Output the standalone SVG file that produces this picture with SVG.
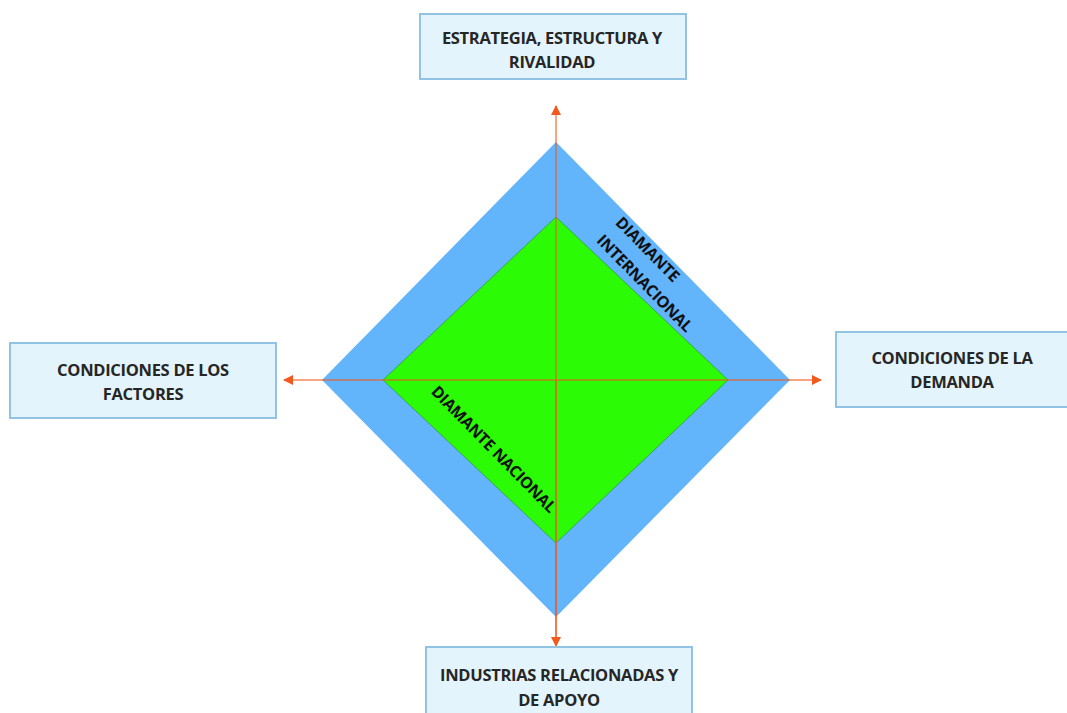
<svg xmlns="http://www.w3.org/2000/svg" width="1067" height="713" viewBox="0 0 1067 713">
<style>
.box{fill:#e3f4fd;stroke:#92c3e3;stroke-width:2}
.lbl{font-family:"Open Sans","Liberation Sans",sans-serif;font-weight:bold;font-size:16.5px;fill:#262626;text-anchor:middle;letter-spacing:-0.3px}
.dl{font-family:"Open Sans","Liberation Sans",sans-serif;font-weight:bold;font-size:16px;fill:#111;text-anchor:middle;dominant-baseline:central;letter-spacing:-0.3px}
.ax{stroke:#f05a1e;stroke-opacity:0.55;stroke-width:2;fill:none}
</style>
<defs>
<marker id="ah" viewBox="0 0 10 10" refX="9" refY="5" markerWidth="5" markerHeight="5" orient="auto">
<path d="M0,0 L10,5 L0,10 z" fill="#f05a1e"/>
</marker>
</defs>
<rect width="1067" height="713" fill="#fff"/>
<g id="diamond-internacional">
<polygon points="556,142 790,380 556,617 322,380" fill="#62b4fb"/>
<text class="dl" transform="translate(648,249) rotate(45.5)">DIAMANTE</text>
<text class="dl" transform="translate(645,283) rotate(45.5)">INTERNACIONAL</text>
</g>
<g id="diamond-nacional">
<polygon points="556,217 728,380 556,543 383,380" fill="#2bfb05" stroke="#3a9a3a" stroke-width="0.8"/>
<text class="dl" transform="translate(494,449) rotate(45.5)">DIAMANTE NACIONAL</text>
</g>
<g id="connectors">
<line class="ax" x1="556" y1="645" x2="556" y2="106" marker-end="url(#ah)"/>
<line class="ax" x1="556" y1="380" x2="556" y2="646" marker-end="url(#ah)"/>
<line class="ax" x1="556" y1="380" x2="284" y2="380" marker-end="url(#ah)"/>
<line class="ax" x1="556" y1="380" x2="821" y2="380" marker-end="url(#ah)"/>
</g>
<g id="top-node">
<rect class="box" x="420" y="14" width="266" height="65"/>
<text class="lbl" x="552" y="44">ESTRATEGIA, ESTRUCTURA Y</text>
<text class="lbl" x="552" y="68">RIVALIDAD</text>
</g>
<g id="left-node">
<rect class="box" x="10" y="343" width="266" height="75"/>
<text class="lbl" x="143" y="376">CONDICIONES DE LOS</text>
<text class="lbl" x="143" y="400">FACTORES</text>
</g>
<g id="right-node">
<rect class="box" x="836" y="332" width="232" height="75"/>
<text class="lbl" x="952" y="364">CONDICIONES DE LA</text>
<text class="lbl" x="952" y="388">DEMANDA</text>
</g>
<g id="bottom-node">
<rect class="box" x="426" y="647" width="266" height="80"/>
<text class="lbl" x="559" y="681">INDUSTRIAS RELACIONADAS Y</text>
<text class="lbl" x="559" y="706">DE APOYO</text>
</g>
</svg>
